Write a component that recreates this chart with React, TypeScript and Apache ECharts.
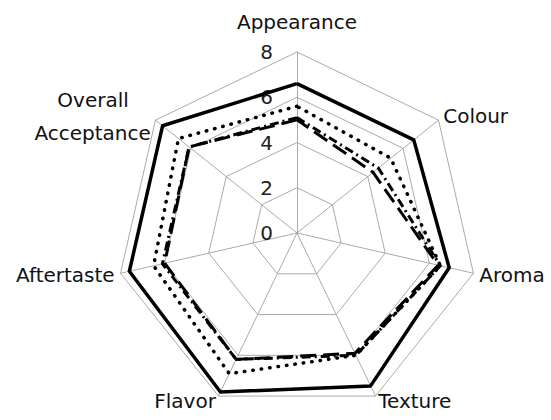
import React, { useEffect, useRef } from "react";
import * as echarts from "echarts";

const categories = ["Appearance", "Colour", "Aroma", "Texture", "Flavor", "Aftertaste", "Overall\nAcceptance"];
const tickMax = 8;
const tickInterval = 2;
const seriesSolid = [6.6, 6.6, 6.9, 7.5, 7.8, 7.6, 7.6];
const seriesDotted = [5.6, 5.3, 6.5, 6.0, 6.9, 6.5, 6.7];
const seriesDashDot = [5.1, 4.6, 6.5, 6.0, 6.2, 6.1, 6.1];
const seriesLongDash = [5.0, 4.3, 6.4, 5.9, 6.2, 6.0, 6.1];

// ECharts places indicators counter-clockwise; reorder to draw them clockwise
const order = [0, 6, 5, 4, 3, 2, 1];
const reorder = (arr: any[]) => order.map((i) => arr[i]);

export default function App() {
  const ref = useRef<HTMLDivElement>(null);
  useEffect(() => {
    if (!ref.current) return;
    const chart = echarts.init(ref.current, undefined, { renderer: "svg" });
    const font = "'DejaVu Sans', sans-serif";
    const indicator = reorder(categories).map((name: string, i: number) => ({
      name,
      min: 0,
      max: tickMax,
      ...(i === 0 ? { nameGap: 14 } : {}),
      axisLabel:
        i === 0
          ? { show: true, color: "#222", fontSize: 20, fontFamily: font, margin: 24, showMaxLabel: true, showMinLabel: true }
          : { show: false },
    }));
    const line = (data: number[], lineStyle: any) => ({
      value: reorder(data),
      symbol: "none",
      lineStyle,
    });
    chart.setOption({
      animation: false,
      backgroundColor: "#fff",
      radar: {
        center: [297, 233],
        radius: 181,
        startAngle: 90,
        splitNumber: tickMax / tickInterval,
        shape: "polygon",
        indicator,
        axisName: {
          color: "#111",
          fontSize: 20,
          fontFamily: font,
          lineHeight: 33,
          formatter: (name: string) =>
            name.indexOf("\n") >= 0
              ? name
                  .split("\n")
                  .map((s, k) => (k === 0 ? "{a|" + s + "}" : s))
                  .join("\n")
              : name,
          rich: {
            a: { fontSize: 20, fontFamily: font, color: "#111", lineHeight: 33, padding: [0, 22, 0, 0] },
          },
        },
        nameGap: 6,
        axisLine: { lineStyle: { color: "#aaa", width: 1 } },
        splitLine: { lineStyle: { color: "#aaa", width: 1 } },
        splitArea: { show: false },
        axisTick: { show: false },
        axisLabel: { show: false },
      },
      series: [
        {
          type: "radar",
          silent: true,
          data: [
            line(seriesLongDash, { color: "#000", width: 3, type: [16, 7] }),
            line(seriesDashDot, { color: "#000", width: 3, type: [9, 4, 2, 4] }),
            line(seriesDotted, { color: "#000", width: 3.5, type: [0.5, 8], cap: "round" }),
            line(seriesSolid, { color: "#000", width: 3.5, type: "solid" }),
          ],
        },
      ],
    });
    return () => chart.dispose();
  }, []);
  return <div ref={ref} style={{ position: "absolute", left: 0, top: 0, width: 551, height: 420 }} />;
}
